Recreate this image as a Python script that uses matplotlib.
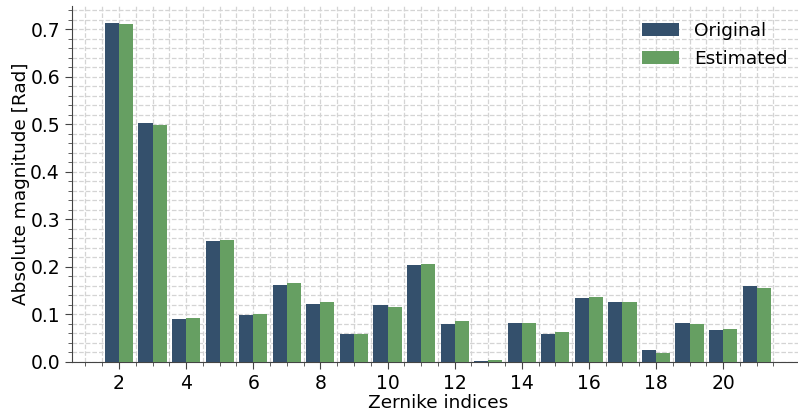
import numpy as np
import matplotlib
matplotlib.use("Agg")
import matplotlib.pyplot as plt
from matplotlib.ticker import MultipleLocator

indices = list(range(2, 22))
original = [0.713, 0.502, 0.090, 0.254, 0.098, 0.161, 0.121, 0.059, 0.120, 0.204,
            0.080, 0.002, 0.082, 0.059, 0.134, 0.126, 0.025, 0.082, 0.067, 0.160]
estimated = [0.711, 0.498, 0.092, 0.257, 0.100, 0.166, 0.126, 0.059, 0.116, 0.206,
             0.086, 0.004, 0.082, 0.063, 0.137, 0.126, 0.019, 0.080, 0.069, 0.156]
series_labels = ["Original", "Estimated"]
xtick_labels = [str(v) for v in range(2, 21, 2)]

plt.rcParams["font.family"] = "DejaVu Sans"

fig = plt.figure(figsize=(7.98, 4.13), dpi=100)
ax = fig.add_axes([71.7 / 798, (413 - 361.7) / 413, (804 - 71.7) / 798, (361.7 - 5.7) / 413])

x = np.array(indices, dtype=float)
w = 0.42
ax.bar(x - w / 2, original, width=w, color="#34506c", label=series_labels[0], zorder=3)
ax.bar(x + w / 2, estimated, width=w, color="#669f62", label=series_labels[1], zorder=3)

ax.set_xticks(range(2, 21, 2))
ax.set_xticklabels(xtick_labels)
ax.set_xticks(np.arange(1, 22, 0.5), minor=True)
ax.yaxis.set_major_locator(MultipleLocator(0.1))
ax.yaxis.set_minor_locator(MultipleLocator(0.02))
ax.set_ylim(0, 0.75)
ax.set_xlim(0.59, 22.41)

ax.grid(True, which="both", linestyle="--", color="#d4d4d4", linewidth=0.9, zorder=0)
ax.set_axisbelow(True)

for side in ("top", "right"):
    ax.spines[side].set_visible(False)
for side in ("left", "bottom"):
    ax.spines[side].set_color("#444444")
ax.tick_params(which="major", length=5, color="#444444", labelsize=13.5)
ax.tick_params(which="minor", length=3, color="#444444")

ax.set_xlabel("Zernike indices", fontsize=13.3, labelpad=1)
ax.set_ylabel("Absolute magnitude [Rad]", fontsize=13.3, labelpad=0)

ax.legend(loc="upper right", frameon=False, fontsize=13.3, bbox_to_anchor=(1.0, 1.0))

fig.savefig("out.png", dpi=100)
